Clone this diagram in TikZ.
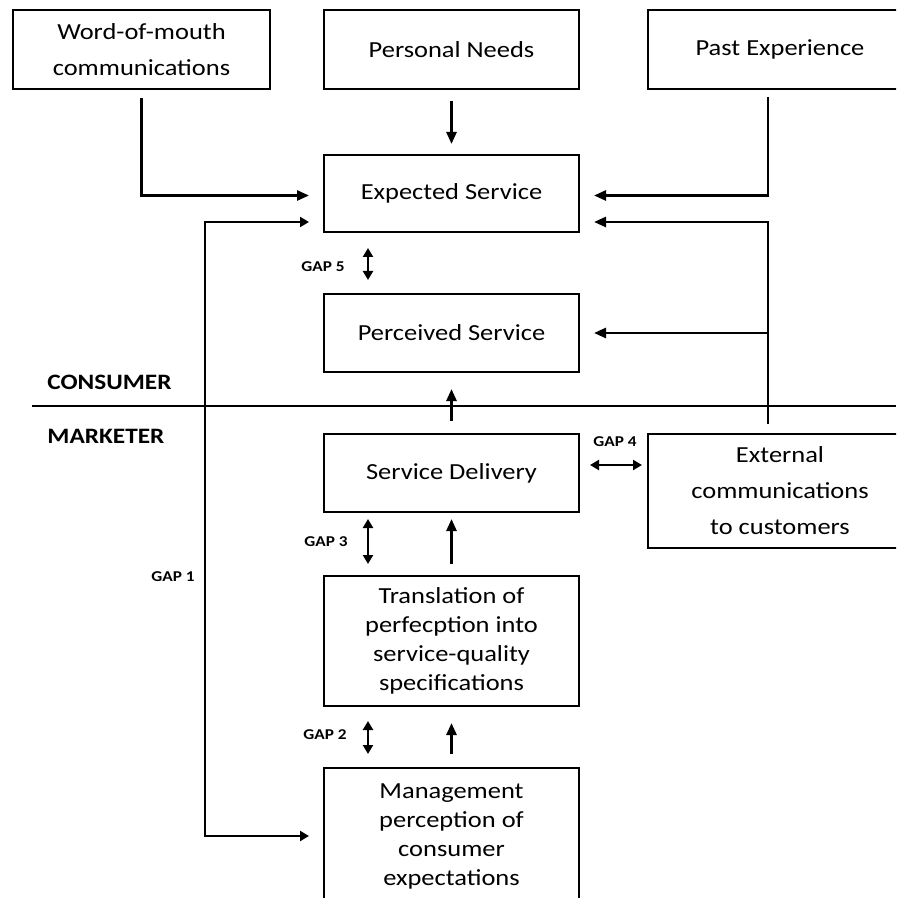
\documentclass[tikz,border=0pt]{standalone}
\usepackage{fontspec}
\setmainfont{Carlito}[FakeStretch=1.15]
\usetikzlibrary{arrows.meta}

\begin{document}
\begin{tikzpicture}[x=0.5pt, y=-0.5pt,
        stage/.style={draw, line width=1pt, inner sep=0pt, align=center, minimum width=127.5pt, minimum height=39pt, font=\fontsize{11.5}{18}\selectfont},
        tall/.style={minimum height=65pt, font=\fontsize{11.5}{14.5}\selectfont},
        arr/.style={line width=1.3pt, -{Triangle[length=6pt,width=5pt]}},
        gaparr/.style={line width=1.3pt, {Triangle[length=4.5pt,width=5pt]}-{Triangle[length=4.5pt,width=5pt]}},
        gaplbl/.style={font=\bfseries\fontsize{7.5}{9}\selectfont, inner sep=0pt},
        side/.style={font=\bfseries\fontsize{11}{13}\selectfont, anchor=west, inner sep=0pt}]

        \useasboundingbox (0,0) rectangle (896,898);
        \clip (0,0) rectangle (896,898);

        % Top row
        \node[stage, minimum width=128.5pt, minimum height=39.5pt] (wom) at (141.5,49.5) {Word-of-mouth\\communications};
        \node[stage, minimum height=39.5pt] (needs) at (451.5,49.5) {Personal Needs};
        \node[stage, minimum width=132pt, minimum height=39.5pt] (past) at (780,49.5) {Past Experience};

        % Consumer side
        \node[stage, minimum height=38.5pt] (exp) at (451.5,193.5) {Expected Service};
        \node[stage] (perc) at (451.5,333) {Perceived Service};

        % Marketer side
        \node[stage] (deliv) at (451.5,473) {Service Delivery};
        \node[stage, minimum width=132pt, minimum height=57pt] (ext) at (780,491) {External\\communications\\to customers};
        \node[stage, tall] (trans) at (451.5,641) {Translation of\\perfecption into\\service-quality\\specifications};
        \node[stage, tall, minimum height=68pt] (mgmt) at (451.5,836) {Management\\perception of\\consumer\\expectations};

        % Divider
        \draw[line width=0.9pt] (32,406) -- (896,406);
        \node[side] (cons) at (47,382) {CONSUMER};
        \node[side] (mark) at (47,436) {MARKETER};

        % Into expected service
        \draw[arr, shorten <=4pt, shorten >=7pt] (wom.south) |- ([yshift=-1pt]exp.west);
        \draw[arr, shorten <=5.5pt, shorten >=5pt] (needs) -- (exp);
        \draw[arr, shorten <=3.5pt, shorten >=7pt] ([xshift=-6pt]past.south) |- ([yshift=-1pt]exp.east);

        % External communications
        \coordinate (bus) at ([xshift=-6pt,yshift=4.5pt]ext.north);
        \draw[arr, shorten >=7pt] (bus) |- ([yshift=-14.25pt]exp.east);
        \draw[arr, shorten >=7pt] (bus |- perc.east) -- (perc.east);

        % Upward flow
        \draw[arr, shorten <=6pt, shorten >=8pt] (deliv) -- (perc);
        \draw[arr, shorten <=5.5pt, shorten >=3pt] (trans) -- (deliv);
        \draw[arr, shorten <=6.5pt, shorten >=8pt] (mgmt) -- (trans);

        % Gaps
        \draw[gaparr, shorten <=7pt, shorten >=7pt] ([yshift=-14.25pt]exp.west) -| ([xshift=-59pt]mgmt.west) -- (mgmt.west);
        \node[gaplbl] (g1) at (173,577) {GAP 1};
        \draw[gaparr, shorten <=7pt, shorten >=6.5pt] ([xshift=-41.75pt]trans.south) -- ([xshift=-41.75pt]mgmt.north);
        \node[gaplbl] (g2) at (325,735) {GAP 2};
        \draw[gaparr, shorten <=3pt, shorten >=5.5pt] ([xshift=-41.75pt]deliv.south) -- ([xshift=-41.75pt]trans.north);
        \node[gaplbl] (g3) at (326,542) {GAP 3};
        \draw[gaparr, shorten <=5pt, shorten >=2.5pt] ([yshift=4pt]deliv.east) -- ([yshift=4pt]deliv.east -| ext.west);
        \node[gaplbl] (g4) at (615,442) {GAP 4};
        \draw[gaparr, shorten <=7.5pt, shorten >=6.5pt] ([xshift=-41.75pt]exp.south) -- ([xshift=-41.75pt]perc.north);
        \node[gaplbl] (g5) at (323,267) {GAP 5};
    \end{tikzpicture}
\end{document}
